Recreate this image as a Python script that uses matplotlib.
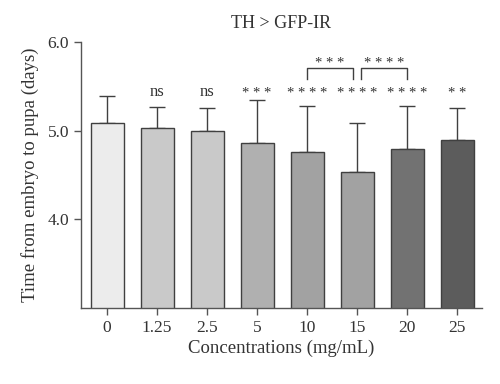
import matplotlib
matplotlib.use("Agg")
import matplotlib.pyplot as plt
import numpy as np

plt.rcParams['font.family'] = ['Liberation Serif', 'DejaVu Serif']

# data
concentrations = ['0', '1.25', '2.5', '5', '10', '15', '20', '25']
means = [5.08, 5.03, 5.00, 4.86, 4.76, 4.53, 4.79, 4.89]
upper_err = [0.31, 0.24, 0.25, 0.49, 0.52, 0.56, 0.49, 0.36]
bar_colors = ['#ececec', '#c9c9c9', '#c9c9c9', '#b0b0b0', '#a2a2a2', '#a2a2a2', '#727272', '#5c5c5c']
sig_labels = ['', 'ns', 'ns', '***', '****', '****', '****', '**']
# pairwise comparisons: (from, to, label)
pairs = [(4, 5, '***'), (5, 6, '****')]

def stars(s):
    return s if s == 'ns' else ' '.join(s)

fig = plt.figure(figsize=(5, 3.84), dpi=100)
ax = fig.add_axes([0.162, 0.198, 0.802, 0.693])

x = np.arange(len(concentrations))
ax.bar(x, means, width=0.66, color=bar_colors, edgecolor='#404040', linewidth=1.0, zorder=2)
ax.errorbar(x, means, yerr=[np.zeros(len(means)), upper_err], fmt='none',
            ecolor='#404040', elinewidth=1.0, capsize=5.5, capthick=1.0, zorder=1, clip_on=False)

for i, s in enumerate(sig_labels):
    if s == 'ns':
        ax.text(x[i], 5.35, s, ha='center', va='bottom', fontsize=12, color='#333333', clip_on=False)
    elif s:
        ax.text(x[i], 5.35, stars(s), ha='center', va='bottom', fontsize=10.5, color='#333333', clip_on=False)

for a, b, s in pairs:
    xa = x[a] + (0.0 if a == 4 else 0.08)
    xb = x[b] - (0.08 if a == 4 else 0.0)
    ax.plot([xa, xa, xb, xb], [5.58, 5.70, 5.70, 5.58], color='#404040', lw=1.0, clip_on=False)
    ax.text((xa + xb) / 2, 5.68, stars(s), ha='center', va='bottom', fontsize=10.5, color='#333333', clip_on=False)

ax.set_xlim(-0.52, 7.5)
ax.set_ylim(3.0, 6.0)
ax.set_yticks([4.0, 5.0, 6.0])
ax.set_yticklabels(['4.0', '5.0', '6.0'])
ax.set_xticks(x)
ax.set_xticklabels(concentrations)
for side in ['top', 'right']:
    ax.spines[side].set_visible(False)
for side in ['left', 'bottom']:
    ax.spines[side].set_color('#555555')
    ax.spines[side].set_linewidth(1.0)
ax.tick_params(direction='out', length=5, width=1.0, color='#555555', labelsize=12.5, labelcolor='#333333')

ax.set_xlabel('Concentrations (mg/mL)', fontsize=13.5, color='#333333', labelpad=3)
ax.set_ylabel('Time from embryo to pupa (days)', fontsize=13.5, color='#333333', labelpad=6)
ax.set_title('TH > GFP-IR', fontsize=13, color='#333333', pad=10)

fig.savefig('out.png', dpi=100)
